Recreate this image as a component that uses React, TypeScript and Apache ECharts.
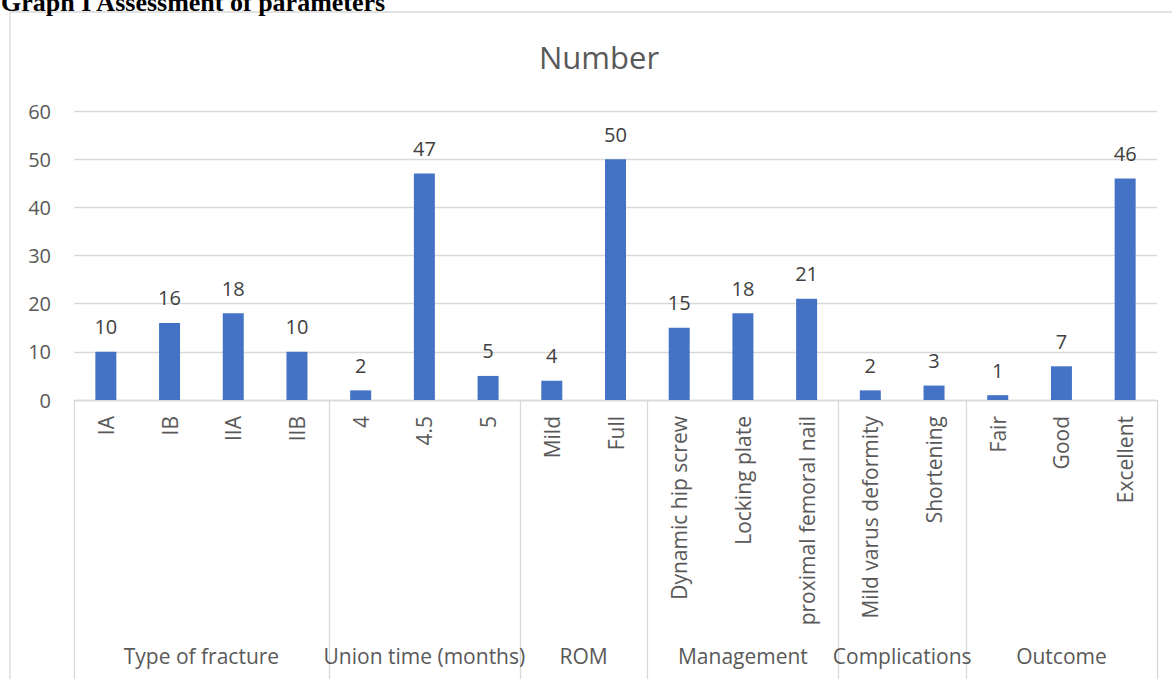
import React, { useEffect, useRef } from "react";
import * as echarts from "echarts";

const categories = [
  "IA", "IB", "IIA", "IIB",
  "4", "4.5", "5",
  "Mild", "Full",
  "Dynamic hip screw", "Locking plate", "proximal femoral nail",
  "Mild varus deformity", "Shortening",
  "Fair", "Good", "Excellent",
];
const values = [10, 16, 18, 10, 2, 47, 5, 4, 50, 15, 18, 21, 2, 3, 1, 7, 46];
const groupNames = ["Type of fracture", "Union time (months)", "ROM", "Management", "Complications", "Outcome"];
const groupSizes = [4, 3, 2, 3, 2, 3];
const yTicks = [0, 10, 20, 30, 40, 50, 60];

const FONT = "'Open Sans', Lato, sans-serif";

export default function App() {
  const ref = useRef<HTMLDivElement>(null);
  useEffect(() => {
    if (!ref.current) return;
    const chart = echarts.init(ref.current, null, { renderer: "svg" });
    const boundaries: number[] = [0];
    groupSizes.forEach((s) => boundaries.push(boundaries[boundaries.length - 1] + s));
    const centers = groupSizes.map((s, i) => boundaries[i] + s / 2);
    chart.setOption({
      animation: false,
      backgroundColor: "#ffffff",
      title: {
        text: "Number",
        left: 594,
        top: 36,
        textAlign: "center",
        textStyle: { fontFamily: FONT, fontSize: 31, fontWeight: "normal", color: "#595959" },
      },
      graphic: [
        {
          type: "rect",
          shape: { x: 10, y: 12, width: 1250, height: 750 },
          style: { fill: "none", stroke: "#d9d9d9", lineWidth: 1.3 },
          silent: true,
        },
        {
          type: "text",
          x: 1,
          y: 2,
          style: {
            text: "Graph I Assessment of parameters",
            font: "bold 26px 'Liberation Serif', 'Times New Roman', serif",
            fill: "#000000",
            verticalAlign: "middle",
            align: "left",
          },
        },
      ],
      grid: { left: 74, right: 15, top: 111, bottom: 279, containLabel: false },
      xAxis: [
        {
          type: "category",
          data: categories,
          axisLine: { show: true, lineStyle: { color: "#d9d9d9", width: 1.3 } },
          axisTick: { show: false },
          axisLabel: {
            interval: 0,
            rotate: 90,
            margin: 16,
            fontFamily: FONT,
            fontSize: 21,
            color: "#595959",
          },
        },
        {
          type: "value",
          min: 0,
          max: boundaries[boundaries.length - 1],
          position: "bottom",
          axisLine: { show: false },
          splitLine: { show: false },
          axisTick: {
            show: true,
            length: 290,
            customValues: boundaries,
            lineStyle: { color: "#d9d9d9", width: 1.3 },
          },
          axisLabel: {
            show: true,
            customValues: centers,
            margin: 245,
            fontFamily: FONT,
            fontSize: 21,
            color: "#595959",
            formatter: (v: number) => {
              const i = centers.findIndex((c) => Math.abs(c - v) < 1e-6);
              return i >= 0 ? groupNames[i] : "";
            },
          },
        },
      ],
      yAxis: {
        type: "value",
        min: yTicks[0],
        max: yTicks[yTicks.length - 1],
        interval: 10,
        axisLine: { show: false },
        axisTick: { show: false },
        splitLine: { lineStyle: { color: "#d9d9d9", width: 1.3 } },
        axisLabel: { margin: 23, fontFamily: FONT, fontSize: 20, color: "#595959" },
      },
      series: [
        {
          type: "bar",
          xAxisIndex: 0,
          data: values,
          barWidth: 21,
          itemStyle: { color: "#4472C4" },
          label: {
            show: true,
            position: "top",
            distance: 15,
            fontFamily: FONT,
            fontSize: 20,
            color: "#404040",
          },
        },
      ],
    });
    return () => chart.dispose();
  }, []);
  return (
    <div
      ref={ref}
      style={{ position: "fixed", left: 0, top: 0, width: 1172, height: 679, background: "#fff" }}
    />
  );
}
